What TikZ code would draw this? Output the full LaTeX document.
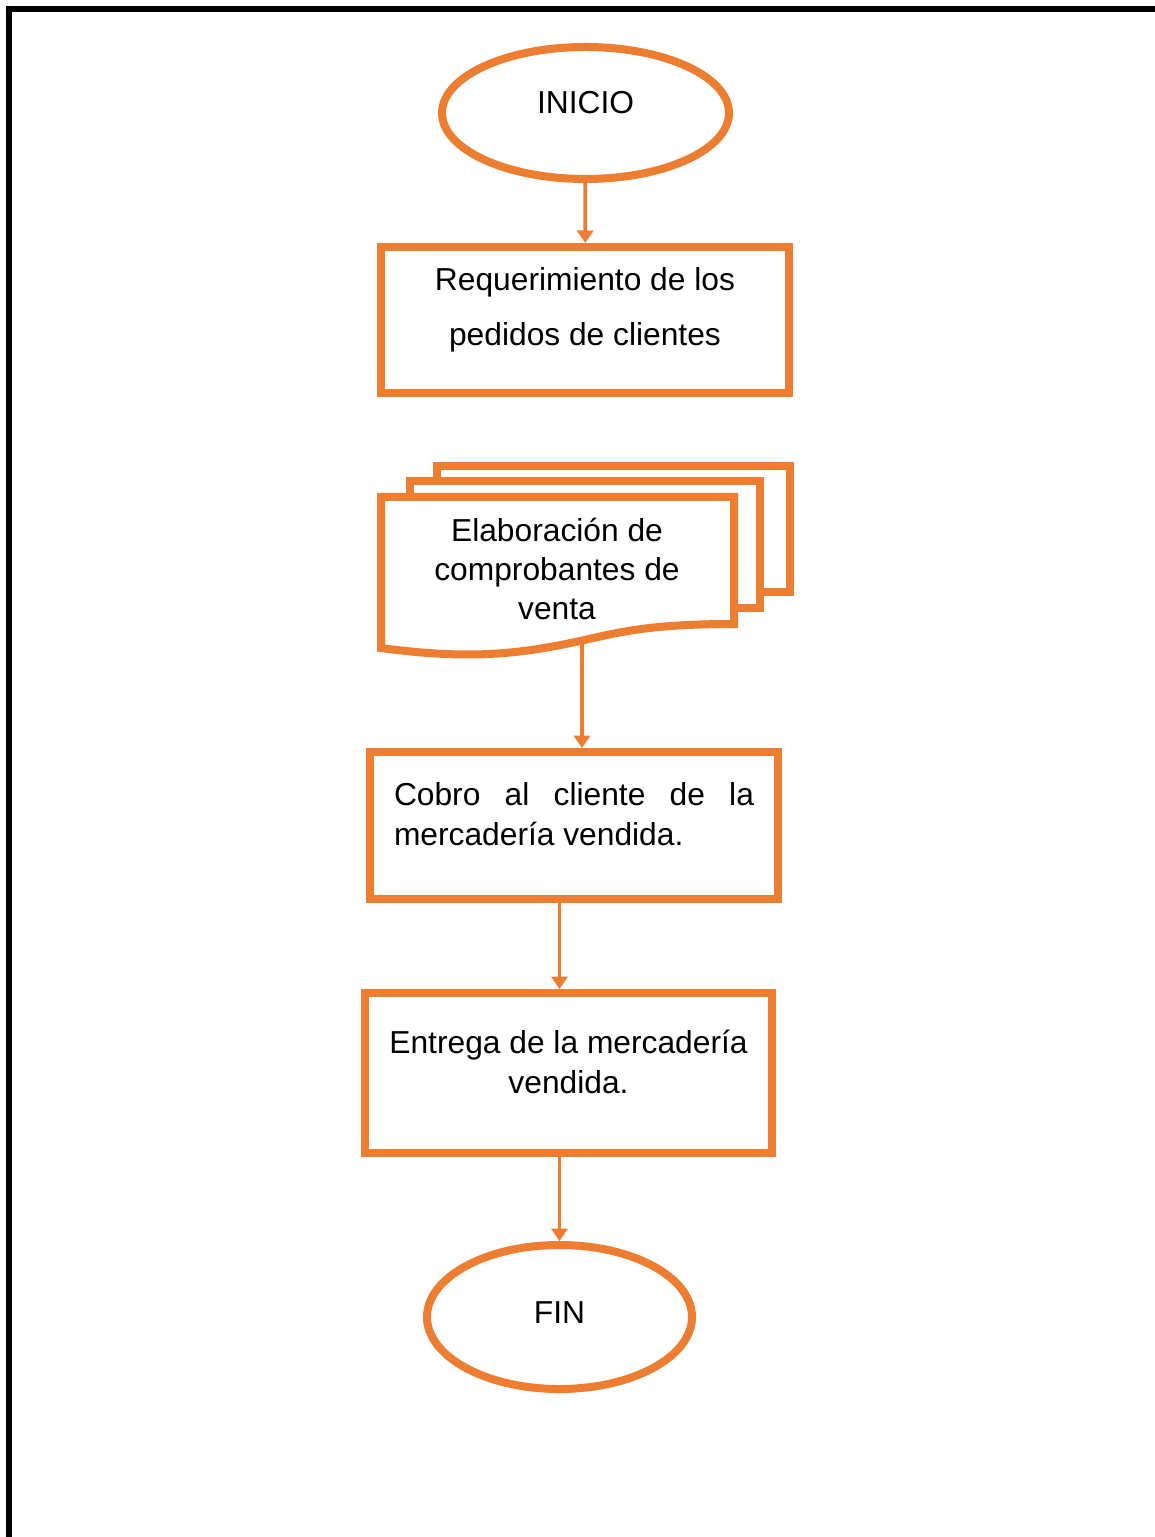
\documentclass[tikz,border=0pt]{standalone}
\usepackage{fontspec}
\setmainfont{Liberation Sans}
\usepackage{tikz}
\usetikzlibrary{shapes.geometric,arrows.meta}
\definecolor{naranja}{HTML}{ED7D31}

\begin{document}
\begin{tikzpicture}[%
  x=0.4pt, y=-0.4pt,
  terminal/.style={ellipse, draw=naranja, line width=3.2pt, fill=white, inner sep=0pt},
  proceso/.style={rectangle, draw=naranja, line width=3.2pt, fill=white, inner sep=0pt},
  hoja/.style={draw=naranja, line width=3.2pt, fill=white},
  texto/.style={font=\fontsize{12.7}{16}\selectfont, align=center, inner sep=0pt},
  flecha/.style={draw=naranja, line width=1.5pt, -{Triangle[width=6.5pt,length=5pt]}}]
  \useasboundingbox (0,0) rectangle (1154,1537);
  \draw[line width=2.6pt] (9,1545) -- (9,9) -- (1160,9);
  \node[terminal, minimum width=114.8pt, minimum height=52.8pt,
    label={[texto, yshift=4.2pt]center:INICIO}] (inicio) at (585.5,113) {};
  \node[proceso, minimum width=163.2pt, minimum height=58.4pt,
    label={[texto, font=\fontsize{12.7}{22}\selectfont, yshift=4pt]center:{Requerimiento de los\\pedidos de clientes}}] (req) at (585,320) {};
  \draw[hoja] (437,466) rectangle (790,592);
  \draw[hoja] (410,481) rectangle (760,608);
  \draw[hoja] (381,497) -- (734,497) -- (734,624)
    .. controls (650,624) and (620,632) .. (580,641)
    .. controls (520,654) and (470,660) .. (381,648) -- cycle;
  \node[texto, font=\fontsize{12.7}{15.7}\selectfont] (comp) at (557,569) {Elaboración de\\comprobantes de\\venta};
  \coordinate (compsal) at (582,641);
  \node[proceso, minimum width=163.2pt, minimum height=58.8pt,
    label={[texto, text width=144pt, align=justify, yshift=4.6pt]center:{Cobro al cliente de la\linebreak mercadería vendida.}}] (cobro) at (574,825.5) {};
  \node[proceso, minimum width=162.8pt, minimum height=64pt,
    label={[texto, yshift=4.5pt]center:{Entrega de la mercadería\\vendida.}}] (entrega) at (568.5,1073) {};
  \node[terminal, minimum width=106pt, minimum height=57.6pt,
    label={[texto, yshift=1.8pt]center:FIN}] (fin) at (559.5,1317) {};
  \draw[flecha] (inicio) -- (req);
  \draw[flecha] (compsal) -- (cobro.north -| compsal);
  \draw[flecha] (cobro.south -| fin) -- (entrega.north -| fin);
  \draw[flecha] (entrega.south -| fin) -- (fin);
\end{tikzpicture}
\end{document}
